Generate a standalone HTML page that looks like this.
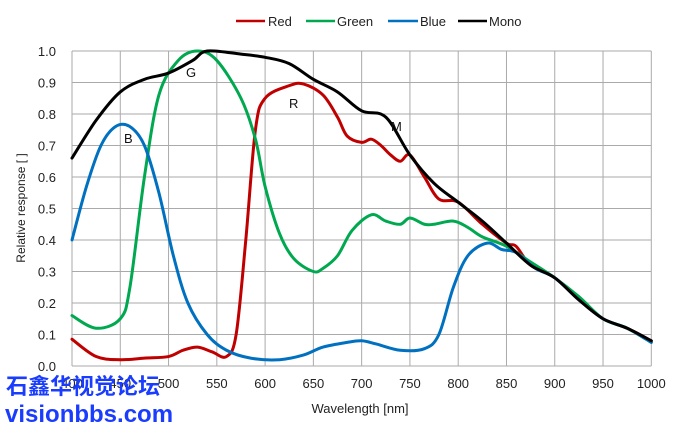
<!DOCTYPE html>
<html><head><meta charset="utf-8"><style>
body{margin:0;background:#fff;width:690px;height:428px;overflow:hidden;font-family:"Liberation Sans",Arial,sans-serif}
</style></head><body>
<svg id="s" width="690" height="428" xmlns="http://www.w3.org/2000/svg" font-family="Liberation Sans, Arial, sans-serif">
<g id="grid" stroke="#aaa" stroke-width="1"></g>
<g id="lbl" font-size="13" fill="#222"></g>
<g id="curves" fill="none" stroke-width="3" stroke-linejoin="round" stroke-linecap="round"></g>
<g font-size="13" fill="#111">
<text x="124" y="143">B</text><text x="186" y="77">G</text><text x="289" y="108">R</text><text x="391" y="131">M</text>
</g>
<g font-size="13" fill="#222">
<line x1="236" y1="21" x2="265" y2="21" stroke="#c00000" stroke-width="2.5"/><text x="268" y="26">Red</text>
<line x1="306" y1="21" x2="335" y2="21" stroke="#00a84f" stroke-width="2.5"/><text x="337" y="26">Green</text>
<line x1="388" y1="21" x2="418" y2="21" stroke="#0070c0" stroke-width="2.5"/><text x="420" y="26">Blue</text>
<line x1="458" y1="21" x2="487" y2="21" stroke="#000" stroke-width="2.5"/><text x="489" y="26">Mono</text>
<text x="360" y="413" text-anchor="middle">Wavelength [nm]</text>
<text transform="translate(25,208) rotate(-90)" text-anchor="middle" font-size="12">Relative response [ ]</text>
</g>
<text x="6" y="394" font-size="22" font-weight="bold" fill="#1a3cff" font-family="Noto Sans CJK SC, sans-serif">石鑫华视觉论坛</text>
<text x="5" y="422" font-size="24" font-weight="bold" fill="#1a3cff" font-family="Liberation Sans, sans-serif">visionbbs.com</text>
</svg>
<script>
var X=function(n){return 72+(n-400)*0.9655},Y=function(v){return 366-v*315};
var ns="http://www.w3.org/2000/svg";
function el(p,t,a,txt){var e=document.createElementNS(ns,t);for(var k in a)e.setAttribute(k,a[k]);if(txt!==undefined)e.textContent=txt;document.getElementById(p).appendChild(e);}
for(var n=400;n<=1000;n+=50){el('grid','line',{x1:X(n),y1:51,x2:X(n),y2:366});el('lbl','text',{x:X(n),y:388,'text-anchor':'middle'},String(n));}
for(var i=0;i<=10;i++){var v=i/10;el('grid','line',{x1:72,y1:Y(v),x2:X(1000),y2:Y(v)});el('lbl','text',{x:56,y:Y(v)+5,'text-anchor':'end'},v.toFixed(1));}
function path(d,c){var p=d.map(function(q){return [X(q[0]),Y(q[1])]});var s="M"+p[0][0]+","+p[0][1];
for(var i=0;i<p.length-1;i++){var p0=p[i-1]||p[i],p1=p[i],p2=p[i+1],p3=p[i+2]||p2;
s+=" C"+(p1[0]+(p2[0]-p0[0])/6)+","+(p1[1]+(p2[1]-p0[1])/6)+" "+(p2[0]-(p3[0]-p1[0])/6)+","+(p2[1]-(p3[1]-p1[1])/6)+" "+p2[0]+","+p2[1];}
el('curves','path',{d:s,stroke:c});}
var tail=[[875,.32],[900,.28],[925,.21],[950,.15],[975,.12],[1000,.08]];
path([[400,.085],[425,.03],[450,.02],[475,.025],[500,.03],[515,.05],[530,.06],[545,.045],[560,.03],[570,.1],[580,.4],[590,.75],[600,.85],[625,.89],[640,.895],[660,.86],[675,.79],[685,.73],[700,.71],[710,.72],[720,.70],[730,.67],[740,.65],[750,.67],[765,.6],[780,.53],[800,.52],[825,.45],[850,.39],[860,.38]].concat(tail),"#c00000");
path([[400,.16],[425,.12],[450,.15],[460,.25],[475,.6],[490,.86],[510,.97],[530,1.0],[550,.97],[575,.85],[590,.72],[600,.57],[615,.42],[630,.34],[650,.30],[660,.31],[675,.35],[690,.43],[710,.48],[725,.46],[740,.45],[750,.47],[765,.45],[775,.45],[795,.46],[810,.44],[825,.41],[850,.38]].concat([[875,.33],[900,.28],[925,.22],[950,.15],[975,.12],[1000,.075]]),"#00a84f");
path([[400,.4],[415,.57],[430,.7],[445,.76],[460,.76],[475,.7],[490,.55],[505,.35],[520,.2],[540,.1],[560,.05],[585,.025],[615,.02],[640,.035],[660,.06],[685,.075],[700,.08],[715,.07],[740,.05],[765,.055],[780,.1],[795,.25],[810,.35],[830,.39],[845,.37],[860,.36],[880,.31],[900,.28],[925,.21],[950,.15],[975,.12],[1000,.075]],"#0070c0");
path([[400,.66],[425,.78],[450,.87],[475,.91],[500,.93],[525,.97],[540,1.0],[575,.99],[600,.98],[625,.96],[650,.91],[675,.87],[700,.81],[725,.79],[750,.67],[775,.58],[800,.52],[825,.46],[850,.39]].concat(tail),"#000");
</script>
</body></html>
